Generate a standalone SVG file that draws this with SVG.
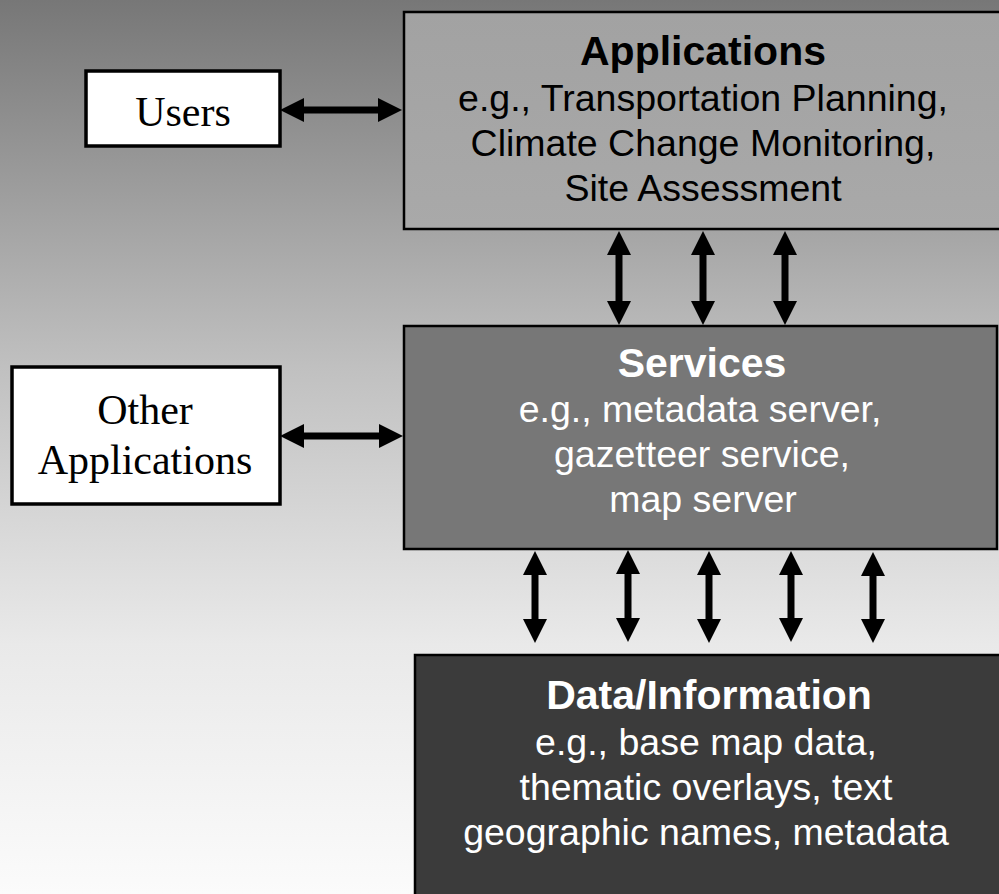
<svg xmlns="http://www.w3.org/2000/svg" width="999" height="894" viewBox="0 0 999 894">
  <defs>
    <linearGradient id="bg" x1="0" y1="0" x2="0" y2="1">
      <stop offset="0" stop-color="#777777"/>
      <stop offset="0.28" stop-color="#a9a9a9"/>
      <stop offset="0.41" stop-color="#c0c0c0"/>
      <stop offset="0.62" stop-color="#dcdcdc"/>
      <stop offset="0.72" stop-color="#e9e9e9"/>
      <stop offset="1" stop-color="#fbfbfb"/>
    </linearGradient>
    <linearGradient id="appfill" x1="0" y1="0" x2="0" y2="1">
      <stop offset="0" stop-color="#a2a2a2"/>
      <stop offset="1" stop-color="#a9a9a9"/>
    </linearGradient>
    <marker id="ah" viewBox="0 0 24 24" markerUnits="userSpaceOnUse" markerWidth="24" markerHeight="24" refX="4" refY="12" orient="auto-start-reverse">
      <path d="M0,0 L24,12 L0,24 Z" fill="#000"/>
    </marker>
  </defs>
  <style>
    .box { stroke: #000; stroke-width: 2.5; }
    .small { fill: #fff; stroke: #000; stroke-width: 3.5; }
    .title { font-family: "Liberation Sans", Arial, sans-serif; font-weight: bold; font-size: 41px; text-anchor: middle; }
    .sub { font-family: "Liberation Sans", Arial, sans-serif; font-size: 37.5px; text-anchor: middle; }
    .serif { font-family: "Liberation Serif", "Times New Roman", serif; font-size: 42px; text-anchor: middle; fill: #000; }
    .dark { fill: #000; }
    .light { fill: #fff; }
    .conn line { stroke: #000; stroke-width: 7; marker-start: url(#ah); marker-end: url(#ah); }
  </style>
  <rect x="0" y="0" width="999" height="894" fill="url(#bg)"/>

  <g id="applications">
    <rect class="box" x="404" y="12" width="600" height="217" fill="url(#appfill)"/>
    <text class="title dark" x="703" y="65">Applications</text>
    <text class="sub dark" x="703" y="111">e.g., Transportation Planning,</text>
    <text class="sub dark" x="703" y="156">Climate Change Monitoring,</text>
    <text class="sub dark" x="703" y="201">Site Assessment</text>
  </g>

  <g id="services">
    <rect class="box" x="404" y="326" width="593" height="223" fill="#777777"/>
    <text class="title light" x="702" y="377">Services</text>
    <text class="sub light" x="700" y="422">e.g., metadata server,</text>
    <text class="sub light" x="702" y="467">gazetteer service,</text>
    <text class="sub light" x="703" y="512">map server</text>
  </g>

  <g id="data">
    <rect class="box" x="415" y="655" width="600" height="250" fill="#3b3b3b"/>
    <text class="title light" x="709" y="709">Data/Information</text>
    <text class="sub light" x="706" y="755">e.g., base map data,</text>
    <text class="sub light" x="706" y="800">thematic overlays, text</text>
    <text class="sub light" x="706" y="845">geographic names, metadata</text>
  </g>

  <g id="users">
    <rect class="small" x="86" y="71" width="194" height="75"/>
    <text class="serif" x="183" y="126">Users</text>
  </g>

  <g id="other-applications">
    <rect class="small" x="12" y="367" width="268" height="137"/>
    <text class="serif" x="145" y="424">Other</text>
    <text class="serif" x="145" y="474">Applications</text>
  </g>

  <g id="connectors" class="conn">
    <line x1="300" y1="110" x2="382" y2="110"/>
    <line x1="300" y1="436" x2="383" y2="436"/>
    <line x1="619" y1="251" x2="619" y2="305"/>
    <line x1="703" y1="251" x2="703" y2="305"/>
    <line x1="785" y1="251" x2="785" y2="305"/>
    <line x1="535" y1="571" x2="535" y2="623"/>
    <line x1="628" y1="570" x2="628" y2="622"/>
    <line x1="709" y1="571" x2="709" y2="623"/>
    <line x1="791" y1="571" x2="791" y2="622"/>
    <line x1="873" y1="572" x2="873" y2="623"/>
  </g>
</svg>
